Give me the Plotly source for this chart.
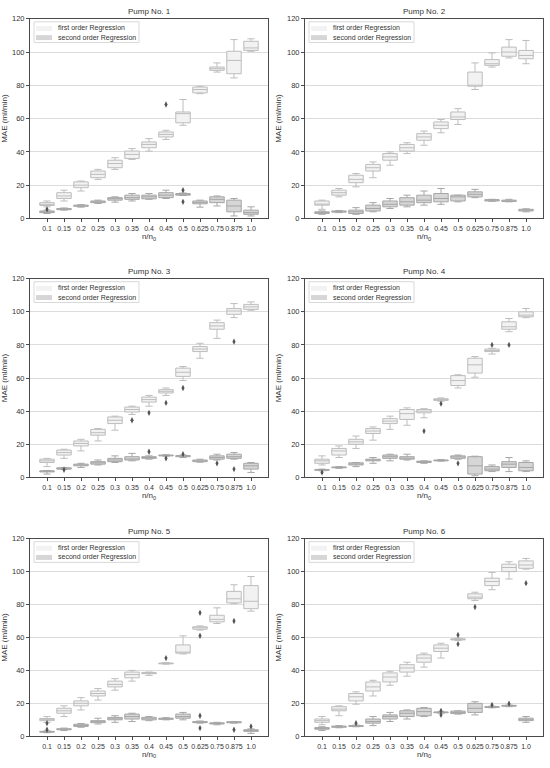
import plotly.graph_objects as go

# ---------------- data ----------------
CATS = ["0.1", "0.15", "0.2", "0.25", "0.3", "0.35", "0.4", "0.45", "0.5",
        "0.625", "0.75", "0.875", "1.0"]
Y_TICKS = [0, 20, 40, 60, 80, 100, 120]
SERIES = ["first order Regression", "second order Regression"]
PUMPS = ["Pump No. 1", "Pump No. 2", "Pump No. 3", "Pump No. 4", "Pump No. 5", "Pump No. 6"]

# each entry: (lower whisker, q1, median, q3, upper whisker) for one n/n0 category
p1_first = [(7, 7.8, 8.5, 9.5, 10.5), (10.5, 12, 13.5, 15.5, 17), (16.5, 18.5, 20, 22, 22.5),
            (23.5, 24.5, 26.5, 28.5, 29.5), (29.5, 30.5, 33, 35, 36.5), (35.5, 36, 38.5, 40.5, 42),
            (40.5, 42.5, 44.5, 46, 48), (47.5, 49, 50.5, 52, 53), (56, 57.5, 63, 64, 71.5),
            (75, 75.5, 77.5, 79, 79.5), (88, 89, 90, 91, 93.5), (84.5, 87, 95, 100.5, 107.5),
            (100.5, 101, 102.5, 106.5, 108)]
p1_second = [(3, 3.5, 4, 4.5, 5), (5, 5.3, 5.6, 6, 6.3), (6.8, 7.3, 7.6, 8, 8.3),
             (9, 9.5, 10, 10.5, 11), (9.8, 11, 12, 12.5, 13), (10.5, 11.5, 12.5, 14, 15),
             (11.5, 11.8, 13, 14, 15), (12, 12.5, 14, 15.5, 17), (13.8, 14, 14.5, 15, 15.3),
             (6.8, 8.8, 9.5, 10.5, 11), (7.5, 9.5, 11.5, 13, 13.5), (1.5, 4, 7.5, 11, 12),
             (1.5, 2.5, 3.5, 5, 7)]
p1_first_out = [(7, 68.5)]
p1_second_out = [(0, 5.5), (8, 17), (8, 10)]

p2_first = [(5.5, 8, 8.5, 10.5, 11), (13, 14, 15.5, 17, 18), (19, 21.5, 23.5, 26, 27),
            (24.5, 28.5, 30.5, 32.5, 34), (32, 35, 37, 39, 40), (39, 40.5, 42.5, 44.5, 45.5),
            (44, 47, 49, 51, 52.5), (51.5, 54, 56, 58, 59.5), (56.5, 59.5, 61, 64, 66),
            (77.5, 79.5, 80, 88, 93.5), (91, 92, 93, 95.5, 99.5), (96.5, 97.5, 100, 103, 107.5),
            (93, 96, 98, 101, 107)]
p2_second = [(2.5, 3, 3.5, 4, 4.5), (3.5, 3.8, 4.2, 4.5, 4.8), (2.5, 3, 4, 5, 6.5),
             (4, 4.5, 6, 8, 9.5), (6, 7, 8.5, 10.5, 12), (7, 8, 10, 12.5, 14),
             (8, 9.5, 11, 14, 16.5), (8.5, 10, 12, 15, 18), (10, 10.5, 13, 14, 14),
             (12.5, 13, 14.5, 16, 17.5), (10.3, 10.5, 11, 11.3, 11.5), (10, 10.2, 10.5, 11, 11.5),
             (4, 4.5, 5, 5.5, 5.8)]
p2_first_out = []
p2_second_out = []

p3_first = [(6.5, 9, 10, 11, 11.5), (11.5, 13.5, 15, 16.5, 17), (16, 19, 20.5, 22, 23),
            (22, 25.5, 27, 29, 29.5), (28.5, 32.5, 34.5, 36.5, 37), (38, 39.5, 41, 42.5, 43),
            (43, 45.5, 47, 48.5, 49.5), (49.5, 51, 52, 53, 54), (58.5, 61, 63.5, 66, 67),
            (72, 76, 77.5, 79, 81), (84, 89.5, 91.5, 93.5, 95), (96.5, 98.5, 100.5, 102, 105),
            (101, 101.5, 103, 104.5, 106)]
p3_second = [(2, 3.3, 3.6, 4, 4.2), (4.8, 5, 5.3, 5.8, 6), (6, 7, 7.5, 8, 8.5),
             (7.5, 8, 8.8, 9.5, 10.5), (9, 9.5, 10.5, 11.5, 13), (10, 10.5, 11, 12.5, 14.5),
             (11, 11.5, 12, 12.5, 13), (12.8, 13, 13.2, 13.5, 13.7), (12, 12.5, 12.8, 13.2, 13.5),
             (9.2, 9.5, 10, 10.5, 11), (10.5, 11, 12, 13, 14), (11, 11.5, 12.5, 14, 15),
             (3, 5, 7, 8.5, 9)]
p3_first_out = [(5, 34.5), (6, 39), (7, 45), (8, 54), (11, 82)]
p3_second_out = [(1, 4.6), (6, 15.5), (7, 11.5), (8, 14), (10, 8.5), (11, 5)]

p4_first = [(7.5, 8.5, 10, 11, 13), (12, 13.5, 16, 17.5, 19), (17.5, 20, 21.5, 23, 25),
            (22.5, 26.5, 28, 29.5, 30.5), (29, 32.5, 34, 35.5, 37), (31.5, 35, 38.5, 41, 42),
            (36, 39, 40, 41, 41.5), (46, 46.5, 47, 47.5, 48), (54, 55.5, 58.5, 61.5, 62),
            (60.5, 63, 68, 72, 73), (74.5, 76, 76.5, 77.5, 78), (88, 89.5, 91, 94, 96),
            (96.5, 97, 98, 100, 102)]
p4_second = [(4, 4.3, 4.5, 4.8, 5), (5.5, 5.8, 6, 6.3, 6.5), (6.5, 7.5, 8, 8.8, 9),
             (8.5, 10, 10.5, 11, 12), (10, 11.5, 12.5, 13.5, 14), (10.5, 11, 11.5, 12.5, 14),
             (8.5, 9, 9.5, 9.8, 10), (9.8, 10, 10.2, 10.5, 10.8), (11, 11.5, 12.5, 13, 13.5),
             (1, 2, 7, 12.5, 12.8), (3.5, 4, 5, 6.5, 7.5), (3.5, 6, 8, 9.5, 12),
             (3.5, 4, 6, 9, 10)]
p4_first_out = [(6, 28), (7, 44.5), (10, 80), (11, 80)]
p4_second_out = [(0, 3), (8, 8.5)]

p5_first = [(8.5, 9.5, 10, 10.8, 12), (12, 14, 15.5, 17, 18.5), (16, 18.5, 20, 21.5, 23.5),
            (22, 24.5, 26, 27.5, 29), (28, 30, 31.5, 33.5, 35), (33.5, 35.5, 37.5, 39, 40),
            (37, 38, 38.3, 38.8, 39), (43.8, 44, 44.2, 44.5, 44.8), (50, 50.5, 51, 55.5, 61),
            (64.5, 65, 66, 66.5, 67), (68.5, 69.5, 71, 73.5, 78), (80.5, 81, 83.5, 88, 92),
            (76, 77.5, 82, 91.5, 97)]
p5_second = [(2.2, 2.5, 2.8, 3, 3.3), (3.5, 4, 4.3, 4.6, 5), (5.5, 6, 6.5, 7.3, 7.8),
             (7.5, 8.3, 9, 9.5, 11), (8.5, 10, 10.5, 11.5, 12.5), (9, 10.5, 12, 13.5, 14),
             (9.5, 10, 10.5, 11.5, 12), (10, 10.3, 10.7, 11, 11.3), (10, 11, 12, 13.5, 14.5),
             (8, 8.3, 8.6, 9, 9.3), (7, 7.5, 7.8, 8.2, 8.5), (8, 8.2, 8.5, 8.9, 9),
             (1.8, 3, 3.5, 4, 4.5)]
p5_first_out = [(7, 47.5), (9, 75), (9, 61), (11, 70)]
p5_second_out = [(0, 8), (0, 4), (9, 12.5), (9, 5), (11, 4), (12, 6)]

p6_first = [(7, 8.5, 9.5, 10.5, 12), (12.5, 15.5, 16.5, 18, 18.5), (19.5, 21.5, 24, 26, 27),
            (24.5, 27.5, 30, 33, 34), (31, 33, 36, 38.5, 39.5), (36.5, 39, 41.5, 43.5, 45),
            (42, 45, 47.5, 49.5, 50.5), (47.5, 51.5, 53.5, 55.5, 56.5), (58.2, 58.5, 58.8, 59.2, 59.5),
            (82.5, 83.5, 84.5, 86.5, 87.5), (89, 91.5, 94, 96, 99.5), (95.5, 100, 102.5, 104.5, 106),
            (101.5, 102, 104, 106.5, 108)]
p6_second = [(3.5, 4.3, 4.8, 5.3, 5.8), (5.2, 5.5, 5.8, 6.2, 6.5), (5.8, 6, 6.2, 6.5, 6.8),
             (6.5, 8, 9, 10.5, 12), (9, 10.5, 12, 13, 14.5), (10.5, 12, 14, 15.5, 16),
             (12, 12.5, 15, 17, 17.5), (14, 14.3, 14.5, 14.8, 15), (13.5, 13.8, 14.5, 15.3, 15.5),
             (13, 14.5, 17, 20, 21), (17.3, 17.5, 17.8, 18, 18.3), (18, 18.3, 18.5, 18.8, 19),
             (8.5, 9.5, 10, 11, 12)]
p6_first_out = [(8, 61.5), (8, 56), (9, 78.5), (12, 93)]
p6_second_out = [(2, 8), (7, 15.5), (7, 13), (10, 19), (11, 19.8)]

FIRST = [p1_first, p2_first, p3_first, p4_first, p5_first, p6_first]
SECOND = [p1_second, p2_second, p3_second, p4_second, p5_second, p6_second]
FIRST_OUT = [p1_first_out, p2_first_out, p3_first_out, p4_first_out, p5_first_out, p6_first_out]
SECOND_OUT = [p1_second_out, p2_second_out, p3_second_out, p4_second_out, p5_second_out, p6_second_out]

# ---------------- style ----------------
W, H = 550, 768
FILL = ["#f2f2f2", "#d6d6d6"]
EDGE = ["#bdbdbd", "#a6a6a6"]
FLIER = "#555555"
SPINE = "#4a4a4a"
GRID = "#dcdcdc"
TXT = "#333333"
FONT = "Arial"

# axes boxes in pixels: (left, right), (top, bottom)
X_PX = [(30, 268), (305, 543)]
Y_PX = [(15, 217), (278, 479), (541, 741)]


def px_x(p):
    return p / W


def px_y(p):
    return 1 - p / H


fig = go.Figure()
layout = dict(
    width=W, height=H, margin=dict(l=0, r=0, t=0, b=0),
    paper_bgcolor="white", plot_bgcolor="white",
    boxmode="overlay", showlegend=False,
    font=dict(family=FONT, size=8, color=TXT),
)
annotations = []
shapes = []

for k in range(6):
    row, col = divmod(k, 2)
    ax = "" if k == 0 else str(k + 1)
    xref, yref = "x" + ax, "y" + ax
    for s, (stats, outs) in enumerate([(FIRST[k], FIRST_OUT[k]), (SECOND[k], SECOND_OUT[k])]):
        fig.add_trace(go.Box(
            x=CATS,
            lowerfence=[v[0] for v in stats], q1=[v[1] for v in stats],
            median=[v[2] for v in stats], q3=[v[3] for v in stats],
            upperfence=[v[4] for v in stats],
            name=SERIES[s],
            fillcolor=FILL[s], line=dict(color=EDGE[s], width=1),
            width=0.85, whiskerwidth=0.5, boxpoints=False,
            xaxis=xref, yaxis=yref, hoverinfo="skip",
        ))
        if outs:
            fig.add_trace(go.Scatter(
                x=[CATS[i] for i, _ in outs], y=[v for _, v in outs],
                mode="markers", name=SERIES[s] + " outliers",
                marker=dict(symbol="diamond-tall", size=4.5, color=FLIER),
                xaxis=xref, yaxis=yref, hoverinfo="skip",
            ))
    xl, xr = X_PX[col]
    yt, yb = Y_PX[row]
    axis_common = dict(showline=True, mirror=True, linecolor=SPINE, linewidth=1,
                       ticks="outside", ticklen=3, tickcolor=SPINE, tickwidth=1,
                       zeroline=False)
    layout["xaxis" + ax] = dict(
        axis_common, domain=[px_x(xl), px_x(xr)], anchor=yref, type="category",
        categoryorder="array", categoryarray=CATS, range=[-1, 13], showgrid=False,
        tickangle=0, tickfont=dict(size=7, color=TXT),
        title=dict(text="n/n<sub>0</sub>", font=dict(size=8), standoff=2),
    )
    layout["yaxis" + ax] = dict(
        axis_common, domain=[px_y(yb), px_y(yt)], anchor=xref, range=[0, 120],
        tickvals=Y_TICKS, showgrid=True, gridcolor=GRID, gridwidth=1,
        tickfont=dict(size=7.5, color=TXT),
        title=dict(text="MAE (ml/min)", font=dict(size=8), standoff=4),
    )
    # title
    annotations.append(dict(
        text=PUMPS[k], x=px_x((xl + xr) / 2), y=px_y(yt),
        xref="paper", yref="paper", xanchor="center", yanchor="bottom", yshift=1,
        showarrow=False, font=dict(size=8, color=TXT),
    ))
    # legend (frame, patches, labels)
    shapes.append(dict(
        type="rect", xref="paper", yref="paper", layer="above",
        x0=px_x(xl + 4), x1=px_x(xl + 109), y0=px_y(yt + 24), y1=px_y(yt + 3),
        fillcolor="rgba(255,255,255,0.85)", line=dict(color="#d9d9d9", width=1),
    ))
    for s in range(2):
        cy = yt + 9.7 + 9.3 * s
        shapes.append(dict(
            type="rect", xref="paper", yref="paper", layer="above",
            x0=px_x(xl + 6), x1=px_x(xl + 22), y0=px_y(cy + 2.5), y1=px_y(cy - 2.5),
            fillcolor=FILL[s], line=dict(width=0),
        ))
        annotations.append(dict(
            text=SERIES[s], x=px_x(xl + 26), y=px_y(cy),
            xref="paper", yref="paper", xanchor="left", yanchor="middle",
            showarrow=False, font=dict(size=7, color=TXT),
        ))

layout["annotations"] = annotations
layout["shapes"] = shapes
fig.update_layout(**layout)
fig.write_html("out.html", config={"displayModeBar": False},
               post_script="document.body.style.margin='0px';")
